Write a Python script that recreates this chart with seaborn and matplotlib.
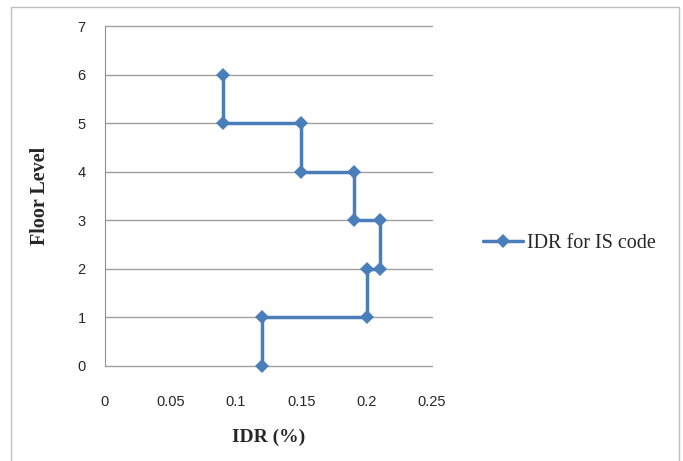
import matplotlib
matplotlib.use('Agg')
import matplotlib.pyplot as plt
import seaborn as sns
import pandas as pd
from matplotlib.patches import Rectangle

# data
idr = [0.12, 0.12, 0.20, 0.20, 0.21, 0.21, 0.19, 0.19, 0.15, 0.15, 0.09, 0.09]
floor = [0, 1, 1, 2, 2, 3, 3, 4, 4, 5, 5, 6]
series_name = 'IDR for IS code'

df = pd.DataFrame({'IDR': idr, 'Floor': floor, 'series': series_name})

sns.set_style('white')
plt.rcParams['font.family'] = ['Liberation Sans', 'DejaVu Sans']

fig = plt.figure(figsize=(6.83, 4.61), dpi=100)
ax = fig.add_axes([0.1537, 0.2061, 0.4788, 0.7375])

sns.lineplot(data=df, x='IDR', y='Floor', hue='series', sort=False, estimator=None,
             palette=['#4A7EBB'], marker='D', markersize=7, markeredgewidth=0,
             linewidth=2.5, ax=ax, clip_on=False, zorder=3)

ax.set_xlim(0, 0.25)
ax.set_ylim(0, 7)
ax.set_xticks([0, 0.05, 0.1, 0.15, 0.2, 0.25])
ax.set_xticklabels(['0', '0.05', '0.1', '0.15', '0.2', '0.25'])
ax.set_yticks(range(8))
ax.yaxis.grid(True, color='#A0A0A0', linewidth=1)
for gl in ax.yaxis.get_gridlines():
    gl.set_clip_on(False)
ax.set_axisbelow(True)
for s in ['top', 'right', 'bottom']:
    ax.spines[s].set_visible(False)
ax.spines['left'].set_color('#909090')
ax.tick_params(axis='x', length=0, pad=21, labelsize=10.5)
ax.tick_params(axis='y', length=0, pad=14, labelsize=10.5)

ax.set_xlabel('IDR (%)', family='Liberation Serif', fontweight='bold', fontsize=14, labelpad=14)
ax.set_ylabel('Floor Level', family='Liberation Serif', fontweight='bold', fontsize=14.5, labelpad=20)

leg = ax.legend(loc='center left', bbox_to_anchor=(1.1, 0.36), frameon=False,
                prop={'family': 'Liberation Serif', 'size': 14.5}, handlelength=2.0,
                handletextpad=0.2)

# outer chart border
fig.patches.append(Rectangle((11 / 683, -0.05), 668 / 683, 1 - 7 / 461 + 0.05,
                             transform=fig.transFigure, fill=False,
                             edgecolor='#C0C0C0', linewidth=1))

plt.savefig('out.png', dpi=100)
